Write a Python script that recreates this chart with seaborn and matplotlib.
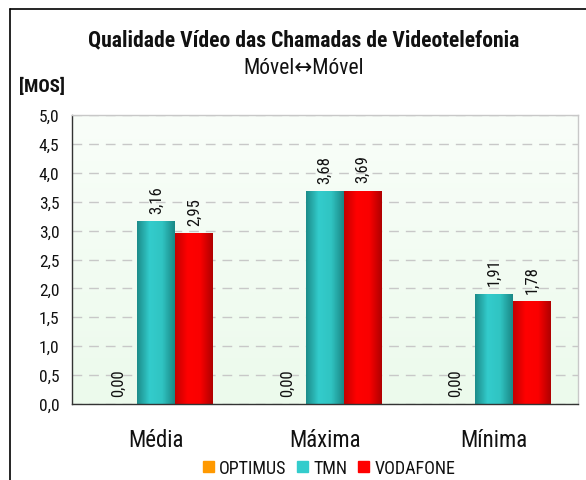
import matplotlib
matplotlib.use('Agg')
import matplotlib.pyplot as plt
from matplotlib.colors import LinearSegmentedColormap
from matplotlib.lines import Line2D
import seaborn as sns
import pandas as pd
import numpy as np

categories = ['Média', 'Máxima', 'Mínima']
operators = ['OPTIMUS', 'TMN', 'VODAFONE']
optimus = [0.00, 0.00, 0.00]
tmn = [3.16, 3.68, 1.91]
vodafone = [2.95, 3.69, 1.78]

colors = {'OPTIMUS': '#ff9900', 'TMN': '#33cccc', 'VODAFONE': '#ff0000'}
gradients = {
    'OPTIMUS': ['#d07800', '#ffa000', '#ff9900', '#c87000'],
    'TMN': ['#1c8c8a', '#33cccc', '#30c4c2', '#1a8886'],
    'VODAFONE': ['#c40000', '#ff0000', '#fa0000', '#b00000'],
}

data = pd.DataFrame({
    'cat': categories * 3,
    'op': [o for o in operators for _ in categories],
    'val': optimus + tmn + vodafone,
})

sns.set_style('white')
plt.rcParams['font.family'] = ['Roboto Condensed', 'DejaVu Sans']
plt.rcParams['text.color'] = '#111111'
plt.rcParams['xtick.color'] = '#111111'
plt.rcParams['ytick.color'] = '#111111'

fig = plt.figure(figsize=(5.86, 4.81), dpi=100)
ax = fig.add_axes([72 / 586, 76 / 481, 506 / 586, 289 / 481])

sns.barplot(data=data, x='cat', y='val', hue='op', order=categories,
            hue_order=operators, palette=colors, width=0.675,
            saturation=1, linewidth=0, ax=ax, legend=True)

# bars with a left-right shading, clipped to the bar shapes
for op, container in zip(operators, ax.containers):
    cmap = LinearSegmentedColormap.from_list(op, gradients[op])
    grad = np.linspace(0, 1, 64).reshape(1, -1)
    for bar in container:
        x0, y0 = bar.get_x(), bar.get_y()
        w, h = bar.get_width(), bar.get_height()
        if h <= 0:
            continue
        im = ax.imshow(grad, cmap=cmap, aspect='auto', extent=[x0, x0 + w, y0, y0 + h],
                       zorder=bar.get_zorder() + 0.1)
        im.set_clip_path(bar)
    ax.bar_label(container, labels=[f'{v:.2f}'.replace('.', ',') for v in container.datavalues],
                 rotation=90, padding=6, fontsize=12)

# plot area background
bg = LinearSegmentedColormap.from_list('bg', ['#ecfaec', '#f9fef9'])
ax.imshow(np.linspace(0, 1, 100).reshape(-1, 1), cmap=bg, aspect='auto', origin='lower',
          extent=[0, 1, 0, 1], transform=ax.transAxes, zorder=-2)

ax.set_xlim(-0.5, 2.5)
ax.set_ylim(0, 5)
ax.set_yticks(np.arange(0, 5.01, 0.5))
ax.set_yticklabels([f'{v:.1f}'.replace('.', ',') for v in np.arange(0, 5.01, 0.5)], fontsize=12.5)
ax.yaxis.grid(True, color='#c8c8c8', linestyle=(0, (7, 5)), linewidth=1)
ax.set_axisbelow(True)
ax.set_xticks([0, 1, 2])
ax.set_xticklabels(categories, fontsize=16.5)
ax.set_xticks([-0.5, 0.5, 1.5, 2.5], minor=True)
ax.tick_params(axis='x', which='major', length=0, pad=17)
ax.tick_params(axis='x', which='minor', length=5, width=1, color='#333333', direction='out')
ax.tick_params(axis='y', length=5, width=1, color='#333333', direction='out', pad=4)
ax.set_xlabel('')
ax.set_ylabel('')
for side in ['left', 'bottom']:
    ax.spines[side].set_color('#333333')
    ax.spines[side].set_linewidth(1)
for side in ['top', 'right']:
    ax.spines[side].set_color('#c8c8c8')
    ax.spines[side].set_linewidth(1)

ax.legend_.remove()
handles = [plt.Rectangle((0, 0), 1, 1, color=colors[o]) for o in operators]
fig.legend(handles, operators, loc='center', bbox_to_anchor=(329 / 586, 1 - 469 / 481),
           ncol=3, frameon=False, fontsize=13, handlelength=0.6, handleheight=0.6,
           handletextpad=0.3, columnspacing=0.6)

fig.text(304 / 586, 1 - 40 / 481, 'Qualidade Vídeo das Chamadas de Videotelefonia',
         ha='center', va='center', fontsize=15.6, fontweight='bold')
fig.text(304 / 586, 1 - 68 / 481, 'Móvel↔Móvel', ha='center', va='center', fontsize=15.5)
fig.text(42 / 586, 1 - 87 / 481, '[MOS]', ha='center', va='center', fontsize=13.5, fontweight='bold')

# chart frame
fig.add_artist(Line2D([10 / 586, 10 / 586], [0, 1 - 10 / 481], transform=fig.transFigure,
                      color='black', linewidth=1.2))
fig.add_artist(Line2D([10 / 586, 1], [1 - 10 / 481, 1 - 10 / 481], transform=fig.transFigure,
                      color='black', linewidth=1.2))

fig.savefig('out.png', dpi=100)
